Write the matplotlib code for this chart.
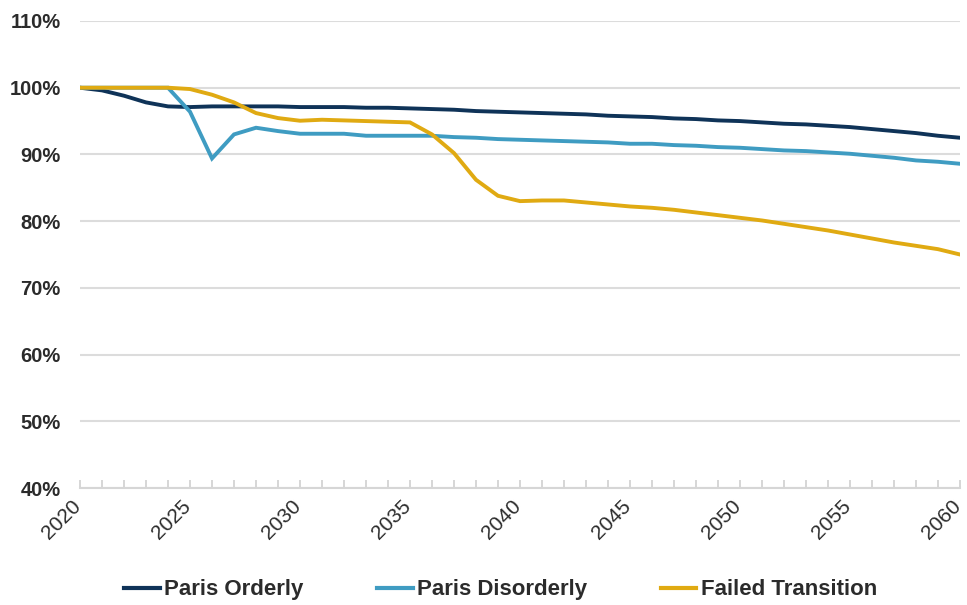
import matplotlib
matplotlib.use("Agg")
import matplotlib.pyplot as plt
from matplotlib.ticker import MultipleLocator, FuncFormatter
from matplotlib.transforms import ScaledTranslation

years = list(range(2020, 2061))
paris_orderly = [100, 99.6, 98.8, 97.8, 97.2, 97.1, 97.2, 97.2, 97.2, 97.2,
                 97.1, 97.1, 97.1, 97.0, 97.0, 96.9, 96.8, 96.7, 96.5, 96.4,
                 96.3, 96.2, 96.1, 96.0, 95.8, 95.7, 95.6, 95.4, 95.3, 95.1,
                 95.0, 94.8, 94.6, 94.5, 94.3, 94.1, 93.8, 93.5, 93.2, 92.8,
                 92.5]
paris_disorderly = [100, 100, 100, 100, 100, 96.4, 89.4, 93.0, 94.0, 93.5,
                    93.1, 93.1, 93.1, 92.8, 92.8, 92.8, 92.8, 92.6, 92.5, 92.3,
                    92.2, 92.1, 92.0, 91.9, 91.8, 91.6, 91.6, 91.4, 91.3, 91.1,
                    91.0, 90.8, 90.6, 90.5, 90.3, 90.1, 89.8, 89.5, 89.1, 88.9,
                    88.6]
failed_transition = [100, 100, 100, 100, 100, 99.8, 98.95, 97.8, 96.2, 95.45,
                     95.05, 95.2, 95.1, 95.0, 94.9, 94.8, 93.0, 90.2, 86.2, 83.8,
                     83.0, 83.1, 83.1, 82.8, 82.5, 82.2, 82.0, 81.7, 81.3, 80.9,
                     80.5, 80.1, 79.6, 79.1, 78.6, 78.0, 77.4, 76.8, 76.3, 75.8,
                     75.0]
series_names = ["Paris Orderly", "Paris Disorderly", "Failed Transition"]
series_colors = ["#0f3358", "#3f9cc2", "#e0aa12"]
y_ticks = [40, 50, 60, 70, 80, 90, 100, 110]
x_ticks = list(range(2020, 2061, 5))

plt.rcParams['font.family'] = ['Liberation Sans', 'DejaVu Sans']

fig = plt.figure(figsize=(9.67, 6.05), dpi=100)
ax = fig.add_axes([80/967, 1-488/605, (960-80)/967, (488-21)/605])

for vals, name, col in zip([paris_orderly, paris_disorderly, failed_transition],
                           series_names, series_colors):
    ax.plot(years, vals, color=col, lw=2.8, label=name, solid_joinstyle='miter', zorder=3)

ax.set_xlim(2020, 2060)
ax.set_ylim(40, 110)
ax.set_yticks(y_ticks)
ax.yaxis.set_major_formatter(FuncFormatter(lambda v, p: f"{int(v)}%"))
ax.set_xticks(x_ticks)
ax.xaxis.set_minor_locator(MultipleLocator(1))

ax.grid(axis='y', color='#dcdcdc', lw=1.5, zorder=0)
for s in ['top', 'right', 'left']:
    ax.spines[s].set_visible(False)
ax.spines['bottom'].set_color('#d6d6d6')
ax.spines['bottom'].set_linewidth(1.5)

ax.tick_params(axis='y', length=0, pad=14, labelsize=14.5, labelcolor='#2b2b2b')
for t in ax.get_yticklabels():
    t.set_fontweight('bold')
ax.tick_params(axis='x', which='both', direction='in', length=6, color='#d0d0d0', width=1.2)
ax.tick_params(axis='x', which='major', labelsize=15, labelcolor='#2b2b2b', pad=6)
offset = ScaledTranslation(-9/100, 0, fig.dpi_scale_trans)
for t in ax.get_xticklabels():
    t.set_rotation(45)
    t.set_ha('right')
    t.set_rotation_mode('anchor')
    t.set_transform(t.get_transform() + offset)

leg = ax.legend(loc='upper center', bbox_to_anchor=(0.478, -0.153), ncol=3, frameon=False,
                handlelength=1.6, handletextpad=0.2, columnspacing=3.3,
                prop={'size': 16, 'weight': 'bold'})
for t in leg.get_texts():
    t.set_color('#2b2b2b')
for h in leg.legend_handles:
    h.set_linewidth(3)

fig.savefig("out.png", dpi=100)
